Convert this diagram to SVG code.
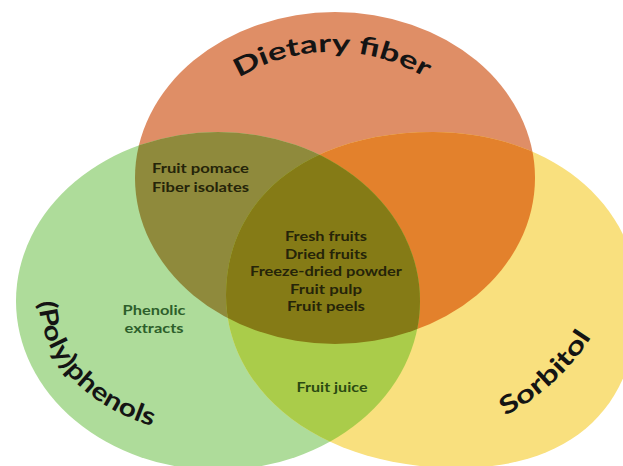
<svg xmlns="http://www.w3.org/2000/svg" xmlns:xlink="http://www.w3.org/1999/xlink" width="623" height="466" viewBox="0 0 623 466">
<style>
.big{font-family:Lato,"Open Sans","DejaVu Sans",sans-serif;font-weight:700;font-size:25px;fill:#141414}
.lbl{font-family:Lato,"Open Sans","DejaVu Sans",sans-serif;font-weight:700;font-size:14px;text-anchor:middle}
.lblL{font-family:Lato,"Open Sans","DejaVu Sans",sans-serif;font-weight:700;font-size:14px}
.dark{fill:#252409}
.green{fill:#2d5f2b}
.jg{fill:#2a4a12}
</style>
<defs>
<ellipse id="eO" cx="335" cy="178" rx="200" ry="166"/>
<ellipse id="eG" cx="218" cy="301" rx="202" ry="169"/>
<path id="pY" d="M433,132 C550,132 638,204 638,300 C638,409 570,468 458,468 C318,468 226,390.5 226,295 C226,197 309,132 433,132 Z"/>
<clipPath id="cO"><use xlink:href="#eO"/></clipPath>
<clipPath id="cG"><use xlink:href="#eG"/></clipPath>
<path id="arcD" d="M204,104.9 A181,181 0 0,1 460,104.9"/>
<path id="arcP" d="M49.7,253.8 A177,135 0 0,0 200.6,434.5"/>
<path id="arcS" d="M368,440.5 A230,230 0 0,0 627.8,202.5"/>
</defs>
<rect width="623" height="466" fill="#ffffff"/>
<g id="dietary-fiber">
<use xlink:href="#eO" fill="#df8e66"/>
<text class="big"><textPath xlink:href="#arcD" startOffset="50%" text-anchor="middle" textLength="196" lengthAdjust="spacingAndGlyphs">Dietary fiber</textPath></text>
</g>
<g id="polyphenols">
<use xlink:href="#eG" fill="#aedc9a"/>
<text class="big"><textPath xlink:href="#arcP" startOffset="50%" text-anchor="middle" textLength="180" lengthAdjust="spacingAndGlyphs">(Poly)phenols</textPath></text>
<text class="lbl green" x="154" y="315" textLength="63" lengthAdjust="spacingAndGlyphs">Phenolic</text>
<text class="lbl green" x="154" y="333" textLength="59" lengthAdjust="spacingAndGlyphs">extracts</text>
</g>
<g id="sorbitol">
<use xlink:href="#pY" fill="#f9e07e"/>
<text class="big"><textPath xlink:href="#arcS" startOffset="50%" text-anchor="middle" textLength="118" lengthAdjust="spacingAndGlyphs">Sorbitol</textPath></text>
</g>
<g id="fiber-sorbitol">
<use xlink:href="#pY" fill="#e3812c" clip-path="url(#cO)"/>
</g>
<g id="fiber-polyphenols">
<use xlink:href="#eG" fill="#8f8a3c" clip-path="url(#cO)"/>
<text class="lblL dark" x="152" y="173" textLength="97" lengthAdjust="spacingAndGlyphs">Fruit pomace</text>
<text class="lblL dark" x="152" y="192" textLength="97" lengthAdjust="spacingAndGlyphs">Fiber isolates</text>
</g>
<g id="polyphenols-sorbitol">
<use xlink:href="#pY" fill="#aacc4a" clip-path="url(#cG)"/>
<text class="lbl jg" x="332" y="392" textLength="71" lengthAdjust="spacingAndGlyphs">Fruit juice</text>
</g>
<g id="all-three">
<g clip-path="url(#cO)"><use xlink:href="#pY" fill="#857b16" clip-path="url(#cG)"/></g>
<text class="lbl dark" x="326" y="241" textLength="82" lengthAdjust="spacingAndGlyphs">Fresh fruits</text>
<text class="lbl dark" x="326" y="258.5" textLength="82" lengthAdjust="spacingAndGlyphs">Dried fruits</text>
<text class="lbl dark" x="326" y="276" textLength="152" lengthAdjust="spacingAndGlyphs">Freeze-dried powder</text>
<text class="lbl dark" x="326" y="293.5" textLength="72" lengthAdjust="spacingAndGlyphs">Fruit pulp</text>
<text class="lbl dark" x="326" y="311" textLength="78" lengthAdjust="spacingAndGlyphs">Fruit peels</text>
</g>
</svg>
